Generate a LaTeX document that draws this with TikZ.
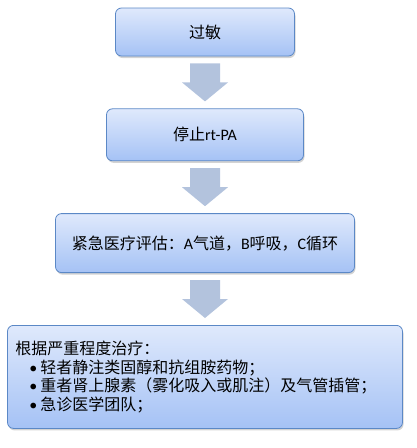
\documentclass[tikz,border=0pt]{standalone}
\usepackage{fontspec}
\setmainfont{Noto Sans CJK SC}
\newfontfamily\latin{Carlito}
\usepackage{tikz}
\usetikzlibrary{positioning,shadows}

\definecolor{boxtop}{HTML}{DFE9FC}
\definecolor{boxbottom}{HTML}{A5C2F5}
\definecolor{boxline}{HTML}{5B88C6}
\definecolor{arrowfill}{HTML}{B3C3DD}

\begin{document}
\begin{tikzpicture}[x=1pt,y=1pt,
                  node distance=52pt,
                  font=\fontsize{16pt}{18.5pt}\selectfont,
                  stepbox/.style={draw=boxline, line width=0.8pt, rounded corners=6pt,
                              top color=boxtop, bottom color=boxbottom,
                              drop shadow={shadow xshift=1pt, shadow yshift=-2pt, opacity=0.35},
                              align=center, inner sep=0pt},
                  flowarrow/.style={fill=arrowfill, draw=none}]
            \useasboundingbox (0,0) rectangle (417,-448);
            % the four steps
            \node [stepbox, minimum width=179pt, minimum height=48pt] (allergy) at (205,-32) {过敏};
            \node [stepbox, minimum width=197pt, minimum height=52pt, below=of allergy] (stop)
                  {停止{\latin rt-PA}};
            \node [stepbox, minimum width=299pt, minimum height=59pt, below=of stop] (assess)
                  {紧急医疗评估：{\latin A}气道，{\latin B}呼吸，{\latin C}循环};
            \node [stepbox, minimum width=395pt, minimum height=103pt, below=of assess,
                   text width=379pt, align=left] (treat)
                  {根据严重程度治疗：\\
                   \hspace*{14pt}{\latin •}\hspace{3pt}轻者静注类固醇和抗组胺药物；\\
                   \hspace*{14pt}{\latin •}\hspace{3pt}重者肾上腺素（雾化吸入或肌注）及气管插管；\\
                   \hspace*{14pt}{\latin •}\hspace{3pt}急诊医学团队；};
            % block arrows between the steps
            \foreach \from/\to in {allergy/stop, stop/assess, assess/treat}
                  \fill [flowarrow] ([xshift=-15pt,yshift=-7pt]\from.south)
                        -- ([xshift=15pt,yshift=-7pt]\from.south)
                        -- ([xshift=15pt,yshift=26pt]\to.north)
                        -- ([xshift=23pt,yshift=26pt]\to.north)
                        -- ([yshift=7pt]\to.north)
                        -- ([xshift=-23pt,yshift=26pt]\to.north)
                        -- ([xshift=-15pt,yshift=26pt]\to.north) -- cycle;
      \end{tikzpicture}
\end{document}
